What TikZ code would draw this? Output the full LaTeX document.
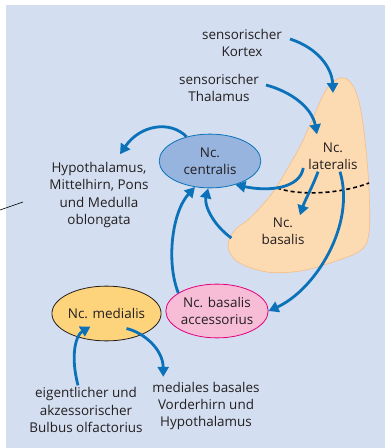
\documentclass[tikz,border=0pt]{standalone}
\usepackage{fontspec}
\setmainfont{Open Sans}
\usepackage{tikz}
\usetikzlibrary{arrows.meta,positioning,shapes.geometric}
\definecolor{cBg}{HTML}{D3DEF0}
\definecolor{cBlob}{HTML}{FDDBB2}
\definecolor{cBlobEdge}{HTML}{F6BD85}
\definecolor{cArr}{HTML}{0B72B9}
\definecolor{cCentr}{HTML}{97B4DE}
\definecolor{cAcc}{HTML}{F7BDD7}
\definecolor{cAccEdge}{HTML}{E4007C}
\definecolor{cMed}{HTML}{FDD37C}
\definecolor{cText}{HTML}{231F20}
\tikzset{
  lbl/.style={font=\fontsize{13.5}{17.3}\selectfont, text=cText, align=center, inner sep=2pt},
  kern/.style={lbl, ellipse, inner sep=0pt, minimum width=102, minimum height=54},
  arr/.style={-{Triangle[length=10bp,width=11bp]}, line width=2.8bp, cArr}
}

\begin{document}
\begin{tikzpicture}[x=1bp, y=-1bp]
\useasboundingbox (0,0) rectangle (385,448);
\fill[cBg] (6,5) rectangle (385,448);
% Amygdala-Kerngebiet
\fill[cBlob, draw=cBlobEdge, line width=0.6bp] plot[smooth cycle, tension=0.6] coordinates
  {(340,78) (351,83) (359,102) (365,140) (369,190) (369,232) (361,250) (333,262)
   (300,271) (267,272) (238,262) (228,246) (235,230) (250,218) (273,192) (297,152)
   (310,125) (326,90)};
\draw[dashed, line width=1.6bp, dash pattern=on 4bp off 3bp] (277,188) .. controls (300,196) and (340,194) .. (369,183);
\node[lbl] (kortex) at (242,43) {sensorischer\\Kortex};
\node[lbl] (thalamus) at (219,88) {sensorischer\\Thalamus};
\node[lbl] (lateralis) at (333,156) {Nc.\\lateralis};
\node[lbl] (basalis) at (283,231) {Nc.\\basalis};
\node[kern, fill=cCentr, draw=cArr, line width=0.8bp] (centralis) at (210,161) {Nc.\\centralis};
\node[lbl] (hypo) at (99,195) {Hypothalamus,\\Mittelhirn, Pons\\und Medulla\\oblongata};
\node[kern, fill=cMed, draw=cText, line width=0.8bp, minimum width=100, minimum height=55] (medialis) at (106.5,313.5) {Nc. medialis};
\node[kern, fill=cAcc, draw=cAccEdge, line width=0.8bp] (accessorius) at (217,311) {Nc. basalis\\accessorius};
\node[lbl] (bulbus) at (86,410) {eigentlicher und\\akzessorischer\\Bulbus olfactorius};
\node[lbl] (mediales) at (206,406) {mediales basales\\Vorderhirn und\\Hypothalamus};
\coordinate (blobtop) at (333,93);
% Verbindungen
\draw[arr] (290,39) .. controls (318,48) and (332,68) .. (blobtop);
\draw[arr] (266,85) .. controls (292,92) and (312,108) .. ([shift={(-16,-6)}]lateralis.north);
\draw[arr] (centralis.134) .. controls (170,120) and (140,125) .. ([shift={(21,-6)}]hypo.north);
\draw[arr] ([shift={(-3,12)}]lateralis.west) .. controls (300,188) and (270,192) .. (centralis.-43);
\draw[arr] ([xshift=-15]lateralis.south) .. controls (312,188) and (305,200) .. ([xshift=17]basalis.north);
\draw[arr] ([xshift=7]lateralis.south) .. controls (356,225) and (315,290) .. (accessorius.east);
\draw[arr] ([shift={(-28,7)}]basalis.west) .. controls (213,225) and (204,205) .. (centralis.-94);
\draw[arr] (accessorius.155) .. controls (166,262) and (172,212) .. (centralis.-120);
\draw[arr] ([xshift=-8]bulbus.north) .. controls (70,355) and (76,335) .. ([shift={(-16,13)}]medialis.center);
\draw[arr] ([shift={(20,15)}]medialis.center) .. controls (145,333) and (163,350) .. ([shift={(13,-3)}]mediales.north west);
\draw[line width=0.6bp] (0,210) -- (23,202);
\end{tikzpicture}
\end{document}
